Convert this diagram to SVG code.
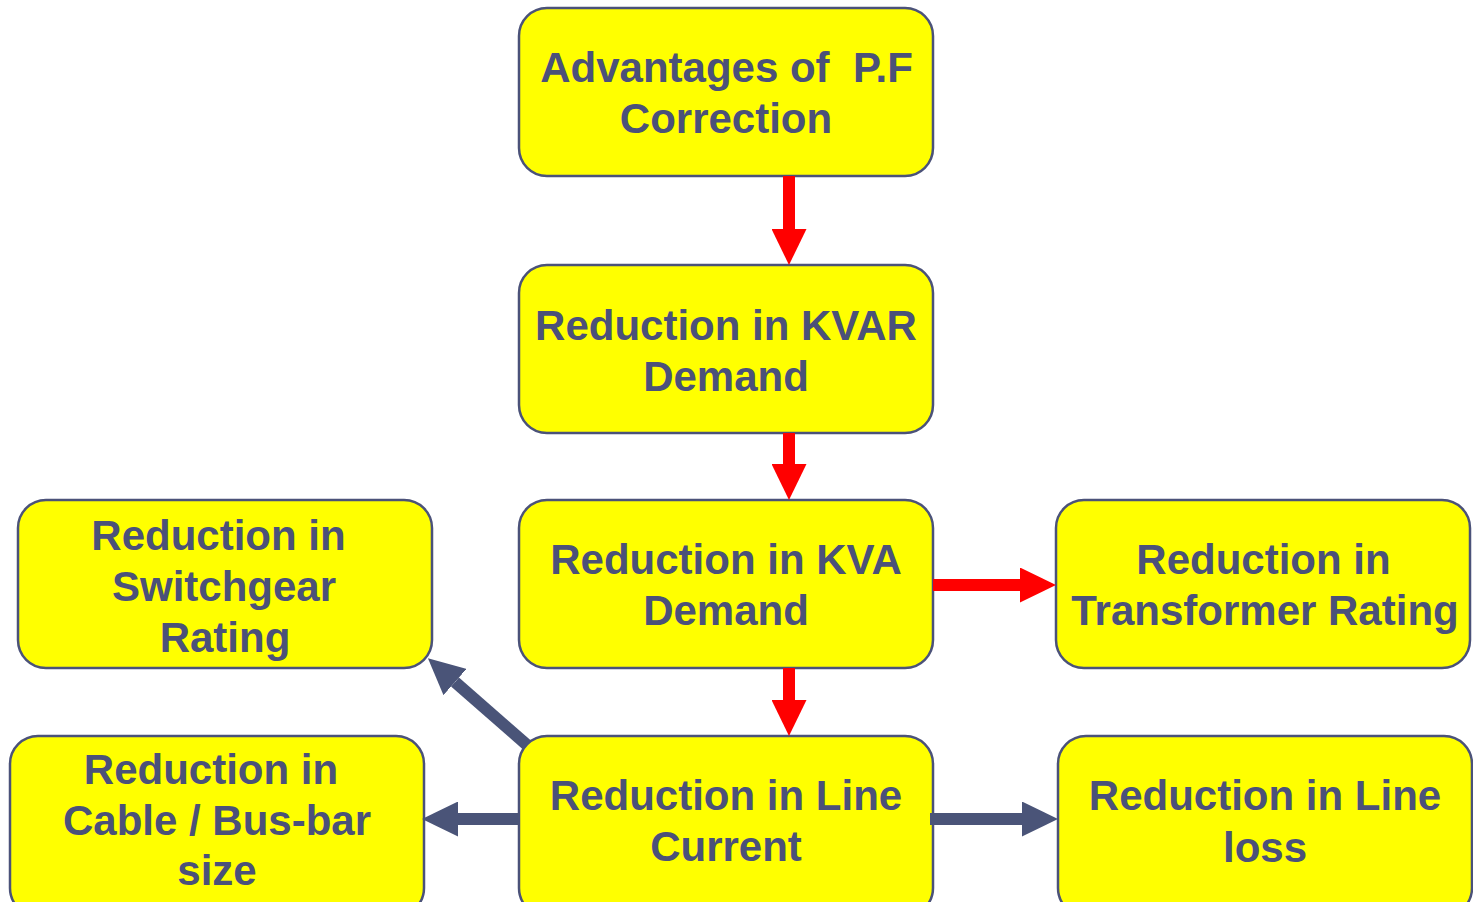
<svg xmlns="http://www.w3.org/2000/svg" width="1473" height="902" viewBox="0 0 1473 902">
<defs>
<style>
.box{fill:#ffff00;stroke:#4b5279;stroke-width:2.5}
.t{font-family:"Liberation Sans",Arial,sans-serif;font-weight:bold;font-size:42px;fill:#4b5179;text-anchor:middle;white-space:pre}
.red{stroke:#ff0000;stroke-width:12;fill:none}
.dark{stroke:#4a5478;stroke-width:12;fill:none}
</style>
<marker id="ahRed" markerUnits="userSpaceOnUse" markerWidth="36" markerHeight="35" refX="0" refY="17.5" orient="auto" viewBox="0 0 36 35">
<path d="M0,0 L36,17.5 L0,35 z" fill="#ff0000"/>
</marker>
<marker id="ahDark" markerUnits="userSpaceOnUse" markerWidth="36" markerHeight="35" refX="0" refY="17.5" orient="auto" viewBox="0 0 36 35">
<path d="M0,0 L36,17.5 L0,35 z" fill="#4a5478"/>
</marker>
</defs>
<rect width="1473" height="902" fill="#ffffff"/>
<g id="n-advantages">
<rect class="box" x="519" y="8" width="414" height="168" rx="28"/>
<text class="t" x="726.5" y="82" xml:space="preserve">Advantages of  P.F</text>
<text class="t" x="726" y="133">Correction</text>
</g>
<g id="n-kvar">
<rect class="box" x="519" y="265" width="414" height="168" rx="28"/>
<text class="t" x="726" y="340">Reduction in KVAR</text>
<text class="t" x="726" y="391">Demand</text>
</g>
<g id="n-kva">
<rect class="box" x="519" y="500" width="414" height="168" rx="28"/>
<text class="t" x="726" y="574">Reduction in KVA</text>
<text class="t" x="726" y="625">Demand</text>
</g>
<g id="n-transformer">
<rect class="box" x="1056" y="500" width="414" height="168" rx="28"/>
<text class="t" x="1263.5" y="574">Reduction in</text>
<text class="t" x="1265" y="625">Transformer Rating</text>
</g>
<g id="n-switchgear">
<rect class="box" x="18" y="500" width="414" height="168" rx="28"/>
<text class="t" x="218.5" y="550">Reduction in</text>
<text class="t" x="224" y="601">Switchgear</text>
<text class="t" x="225" y="652">Rating</text>
</g>
<g id="n-linecurrent">
<rect class="box" x="519" y="736" width="414" height="180" rx="28"/>
<text class="t" x="726" y="810">Reduction in Line</text>
<text class="t" x="726" y="861">Current</text>
</g>
<g id="n-cable">
<rect class="box" x="10" y="736" width="414" height="180" rx="28"/>
<text class="t" x="211" y="784">Reduction in</text>
<text class="t" x="217" y="835">Cable / Bus-bar</text>
<text class="t" x="217" y="885">size</text>
</g>
<g id="n-lineloss">
<rect class="box" x="1058" y="736" width="414" height="180" rx="28"/>
<text class="t" x="1265" y="810">Reduction in Line</text>
<text class="t" x="1265" y="862">loss</text>
</g>
<g id="connectors">
<line class="red" x1="789" y1="176" x2="789" y2="229" marker-end="url(#ahRed)"/>
<line class="red" x1="789" y1="433" x2="789" y2="464" marker-end="url(#ahRed)"/>
<line class="red" x1="789" y1="668" x2="789" y2="700" marker-end="url(#ahRed)"/>
<line class="red" x1="933" y1="585" x2="1020" y2="585" marker-end="url(#ahRed)"/>
<line class="dark" x1="930" y1="819" x2="1022" y2="819" marker-end="url(#ahDark)"/>
<line class="dark" x1="519" y1="819" x2="458" y2="819" marker-end="url(#ahDark)"/>
<line class="dark" x1="527" y1="745" x2="455" y2="682" marker-end="url(#ahDark)"/>
</g>
</svg>
